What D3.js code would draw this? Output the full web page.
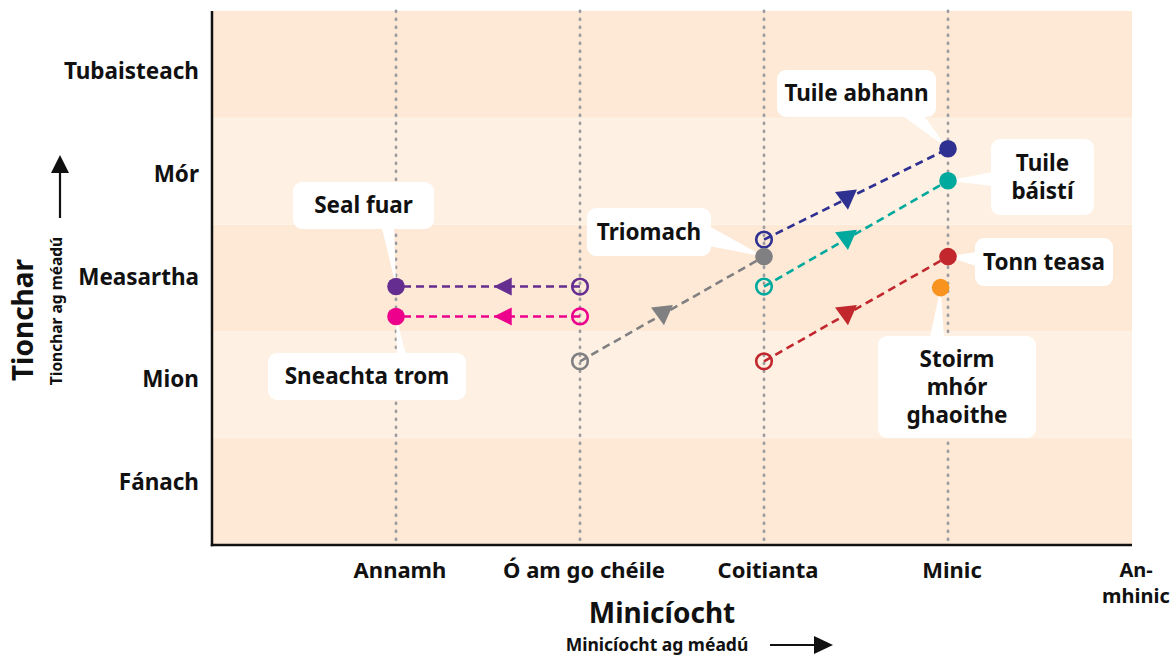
<!DOCTYPE html>
<html>
<head>
<meta charset="utf-8">
<script src="https://cdn.jsdelivr.net/npm/d3@7"></script>
<style>
  body { margin: 0; background: #fff; }
  svg text { font-family: "Noto Sans", sans-serif; font-weight: 700; fill: #111; }
</style>
</head>
<body>
<svg width="1170" height="658"></svg>
<script>
const svg = d3.select('svg');

// Categories
const impactLevels = ['Fánach', 'Mion', 'Measartha', 'Mór', 'Tubaisteach'];
const frequencyLevels = ['Annamh', 'Ó am go chéile', 'Coitianta', 'Minic', 'An-mhinic'];

// Events: position now (x0, y0) and in future (x1, y1); null start = no change shown
const eventNames = ['Seal fuar', 'Sneachta trom', 'Triomach', 'Tuile abhann', 'Tuile báistí', 'Tonn teasa', 'Stoirm mhór ghaoithe'];
const eventColors = ['#662d91', '#ec008c', '#808083', '#2e3192', '#00a99d', '#c1272d', '#f7931e'];
const startFreq = [2, 2, 2, 3, 3, 3, null];
const startImpact = [2.42, 2.14, 1.72, 2.86, 2.42, 1.72, null];
const endFreq = [1, 1, 3, 4, 4, 4, 3.96];
const endImpact = [2.42, 2.14, 2.70, 3.71, 3.41, 2.70, 2.41];

const events = eventNames.map((name, i) => ({
  name,
  color: eventColors[i],
  x0: startFreq[i], y0: startImpact[i],
  x1: endFreq[i], y1: endImpact[i]
}));

// Callout boxes (layout only)
const callouts = {
  'Seal fuar':            { box: [293, 182, 141, 47], base: [[382, 228], [394, 228]], lines: ['Seal fuar'] },
  'Sneachta trom':        { box: [268, 353, 198, 47], base: [[397, 354], [406, 354]], lines: ['Sneachta trom'] },
  'Triomach':             { box: [587, 208, 124, 48], base: [[709, 226], [709, 246]], lines: ['Triomach'] },
  'Tuile abhann':         { box: [777, 70, 159, 47], base: [[903, 116], [924, 116]], lines: ['Tuile abhann'] },
  'Tuile báistí':         { box: [991, 139, 103, 76], base: [[992, 172], [992, 186]], lines: ['Tuile', 'báistí'] },
  'Tonn teasa':           { box: [975, 238, 138, 48], base: [[976, 252], [976, 266]], lines: ['Tonn teasa'] },
  'Stoirm mhór ghaoithe': { box: [878, 336, 158, 102], base: [[930, 337], [944, 337]], lines: ['Stoirm', 'mhór', 'ghaoithe'] }
};

const plotLeft = 212, plotRight = 1132, plotTop = 11, plotBottom = 545;

const x = d3.scaleLinear().domain([0, 5]).range([plotLeft, plotRight]);
const y = d3.scaleLinear().domain([0, 5]).range([plotBottom, plotTop]);
const yLabel = d3.scalePoint().domain(impactLevels).range([plotBottom, plotTop]).padding(0.6);

// Background bands
svg.selectAll('.band')
  .data(impactLevels)
  .enter()
  .append('rect')
  .attr('x', plotLeft)
  .attr('width', plotRight - plotLeft)
  .attr('y', (d, i) => y(i + 1))
  .attr('height', (d, i) => y(i) - y(i + 1))
  .attr('fill', (d, i) => i % 2 === 0 ? '#fde9d6' : '#fef0e2');

// Vertical dotted gridlines
svg.selectAll('.grid')
  .data(d3.range(1, 5))
  .enter()
  .append('line')
  .attr('x1', d => x(d)).attr('x2', d => x(d))
  .attr('y1', plotTop).attr('y2', plotBottom)
  .attr('stroke', '#9d9da1')
  .attr('stroke-width', 2.8)
  .attr('stroke-linecap', 'round')
  .attr('stroke-dasharray', '0.8,7.2');

// Axis lines
svg.append('line').attr('x1', plotLeft).attr('x2', plotLeft).attr('y1', plotTop).attr('y2', plotBottom + 1.2)
  .attr('stroke', '#111').attr('stroke-width', 2.5);
svg.append('line').attr('x1', plotLeft - 1.2).attr('x2', plotRight).attr('y1', plotBottom).attr('y2', plotBottom)
  .attr('stroke', '#111').attr('stroke-width', 2.5);

// Y tick labels
svg.selectAll('.ylab')
  .data(impactLevels)
  .enter()
  .append('text')
  .attr('x', 199)
  .attr('y', d => yLabel(d))
  .attr('dy', '0.3em')
  .attr('text-anchor', 'end')
  .attr('font-size', 22.5)
  .text(d => d);

// X tick labels
const xl = svg.selectAll('.xlab')
  .data(frequencyLevels)
  .enter()
  .append('text')
  .attr('x', (d, i) => x(i + 1) + (i === 4 ? 4 : 4))
  .attr('y', 571)
  .attr('text-anchor', 'middle')
  .attr('font-size', (d, i) => i === 4 ? 20 : 22);
xl.each(function(d) {
  const parts = d === 'An-mhinic' ? ['An-', 'mhinic'] : [d];
  const t = d3.select(this);
  parts.forEach((p, k) => {
    t.append('tspan').attr('x', t.attr('x')).attr('dy', k === 0 ? '0.3em' : '1.3em').text(p);
  });
});

// Axis titles
svg.append('text').attr('x', 662).attr('y', 623).attr('text-anchor', 'middle')
  .attr('font-size', 28).text('Minicíocht');
svg.append('text').attr('x', 657).attr('y', 651).attr('text-anchor', 'middle')
  .attr('font-size', 17.5).text('Minicíocht ag méadú');
svg.append('text').attr('transform', 'translate(33,320) rotate(-90)').attr('text-anchor', 'middle')
  .attr('font-size', 28).text('Tionchar');
svg.append('text').attr('transform', 'translate(62,311) rotate(-90)').attr('text-anchor', 'middle')
  .attr('font-size', 15.5).text('Tionchar ag méadú');

// Direction arrows
svg.append('line').attr('x1', 770).attr('x2', 816).attr('y1', 645).attr('y2', 645)
  .attr('stroke', '#111').attr('stroke-width', 2.2);
svg.append('path').attr('d', 'M814,636 L833,645 L814,654 Z').attr('fill', '#111');
svg.append('line').attr('x1', 60).attr('x2', 60).attr('y1', 218).attr('y2', 170)
  .attr('stroke', '#111').attr('stroke-width', 2.2);
svg.append('path').attr('d', 'M51,173 L60,155 L69,173 Z').attr('fill', '#111');

// Callouts
const co = svg.selectAll('.callout')
  .data(events)
  .enter()
  .append('g')
  .attr('class', 'callout');
co.append('path')
  .attr('d', d => {
    const c = callouts[d.name];
    const tx = x(d.x1), ty = y(d.y1);
    return `M${c.base[0][0]},${c.base[0][1]} L${tx},${ty} L${c.base[1][0]},${c.base[1][1]} Z`;
  })
  .attr('fill', '#fff');
co.append('rect')
  .attr('x', d => callouts[d.name].box[0])
  .attr('y', d => callouts[d.name].box[1])
  .attr('width', d => callouts[d.name].box[2])
  .attr('height', d => callouts[d.name].box[3])
  .attr('rx', 9)
  .attr('fill', '#fff');
co.each(function(d) {
  const c = callouts[d.name];
  const cx = c.box[0] + c.box[2] / 2;
  const cy = c.box[1] + c.box[3] / 2;
  const lh = 28;
  const n = c.lines.length;
  d3.select(this).selectAll('text')
    .data(c.lines)
    .enter()
    .append('text')
    .attr('x', cx)
    .attr('y', (l, k) => cy + (k - (n - 1) / 2) * lh)
    .attr('dy', '0.35em')
    .attr('text-anchor', 'middle')
    .attr('font-size', 22.5)
    .text(l => l);
});

// Connecting dashed lines
const moving = events.filter(d => d.x0 !== null);
svg.selectAll('.link')
  .data(moving)
  .enter()
  .append('line')
  .attr('x1', d => x(d.x0)).attr('y1', d => y(d.y0))
  .attr('x2', d => x(d.x1)).attr('y2', d => y(d.y1))
  .attr('stroke', d => d.color)
  .attr('stroke-width', 2.6)
  .attr('stroke-dasharray', '8,5');

// Direction triangles
svg.selectAll('.tri')
  .data(moving)
  .enter()
  .append('path')
  .attr('d', d => {
    if (d.y0 === d.y1) return 'M-9,0 L9,-9 L9,9 Z';
    return 'M-11,-8 L11,-8 L0,11 Z';
  })
  .attr('transform', d => {
    const f = d.y0 === d.y1 ? 0.42 : 0.45;
    const px = x(d.x0) + (x(d.x1) - x(d.x0)) * f;
    const py = y(d.y0) + (y(d.y1) - y(d.y0)) * f;
    const rot = d.y0 === d.y1 ? 0 : -6;
    return `translate(${px},${py}) rotate(${rot})`;
  })
  .attr('fill', d => d.color);

// Open circles (current)
svg.selectAll('.start')
  .data(moving)
  .enter()
  .append('circle')
  .attr('cx', d => x(d.x0)).attr('cy', d => y(d.y0))
  .attr('r', 7.8)
  .attr('fill', 'none')
  .attr('stroke', d => d.color)
  .attr('stroke-width', 2.6);

// Filled circles (future)
svg.selectAll('.end')
  .data(events)
  .enter()
  .append('circle')
  .attr('cx', d => x(d.x1)).attr('cy', d => y(d.y1))
  .attr('r', 8.8)
  .attr('fill', d => d.color);
</script>
</body>
</html>
